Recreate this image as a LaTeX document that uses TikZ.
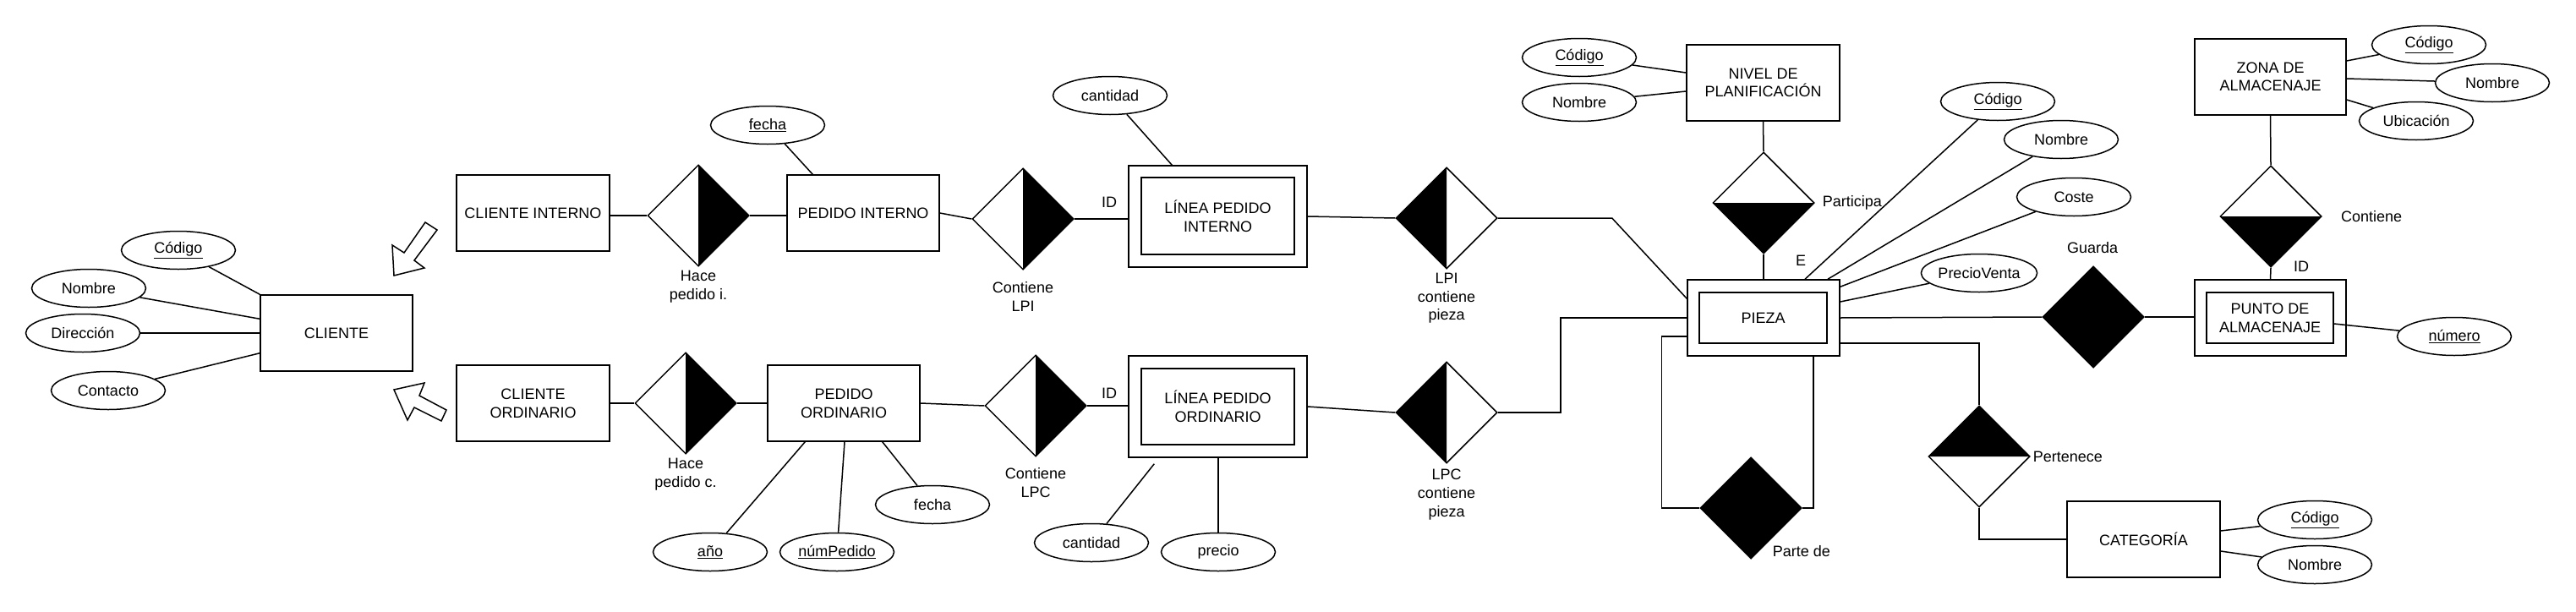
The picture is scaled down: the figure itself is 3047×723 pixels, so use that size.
\documentclass[tikz,border=0pt]{standalone}
\usepackage{fontspec}
\setmainfont{Liberation Sans}
\usetikzlibrary{shapes.geometric,calc}
\begin{document}
\begin{tikzpicture}[x=1pt,y=-1pt,line width=1.5pt,
  every node/.style={font=\fontsize{18}{21.6}\selectfont, inner sep=0pt},
  ent/.style={draw, rectangle, minimum width=181pt, minimum height=90pt, align=center},
  wouter/.style={draw, rectangle},
  attr/.style={draw, ellipse, minimum width=135pt, minimum height=45pt},
  rel/.style={draw, diamond, minimum width=120pt, minimum height=120pt},
  halfR/.style={path picture={\fill[black] (path picture bounding box.north) -- (path picture bounding box.east) -- (path picture bounding box.south) -- cycle;}},
  halfL/.style={path picture={\fill[black] (path picture bounding box.north) -- (path picture bounding box.west) -- (path picture bounding box.south) -- cycle;}},
  halfB/.style={path picture={\fill[black] (path picture bounding box.west) -- (path picture bounding box.east) -- (path picture bounding box.south) -- cycle;}},
  halfT/.style={path picture={\fill[black] (path picture bounding box.west) -- (path picture bounding box.east) -- (path picture bounding box.north) -- cycle;}},
  fullrel/.style={fill=black},
  lbl/.style={align=center},
  blockarrow/.style={draw, fill=white}
]
\fill[white] (0,0) rectangle (3047,723);
\useasboundingbox (0,0) rectangle (3047,723);

% ---------- CLIENTE ----------
\node[ent, minimum width=180pt] (cliente) at (398,394) {CLIENTE};
\node[attr] (aCod) at (211,296) {\underline{Código}};
\node[attr] (aNom) at (105,341) {Nombre};
\node[attr] (aDir) at (98,394) {Dirección};
\node[attr] (aCon) at (128,462) {Contacto};
\draw (aCod) -- (cliente.north west);
\draw (aNom) -- ($(cliente.north west)+(0,29)$);
\draw (aDir) -- (cliente.west);
\draw (aCon) -- ($(cliente.south west)+(0,-22)$);

% hollow block arrows (generalisation)
\draw[blockarrow] (466,326) -- (464,290) -- (478,299) -- (503,263) -- (517,272) -- (490,308) -- (502,317) -- cycle;
\draw[blockarrow] (466,461) -- (502,453) -- (496,468) -- (528,485) -- (522,498) -- (490,482) -- (482,497) -- cycle;

% ---------- top row ----------
\node[ent] (cint) at (630.5,252) {CLIENTE INTERNO};
\node[rel, halfR] (hpi) at (826,255) {};
\node[lbl] (hpiL) at (826,339) {Hace\\pedido i.};
\node[ent, minimum width=180pt] (pint) at (1021,252) {PEDIDO INTERNO};
\node[attr] (aFechaI) at (908,148) {\underline{fecha}};
\node[rel, halfR] (clpi) at (1210,259) {};
\node[lbl] (clpiL) at (1210,351) {Contiene\\LPI};
\node (id1) at (1312,239) {ID};
\node[wouter, minimum width=211pt, minimum height=120pt] (lpiO) at (1440.5,256) {};
\node[ent, minimum width=181pt, minimum height=91pt] (lpi) at (1440.5,255.5) {LÍNEA PEDIDO\\INTERNO};
\node[attr] (aCantI) at (1313,113) {cantidad};
\node[rel, halfL] (lpip) at (1711,258) {};
\node[lbl] (lpipL) at (1711,353) {LPI\\contiene\\pieza};

\draw (hpi.west) -- (hpi.west -| cint.east);
\draw (hpi.east) -- (hpi.east -| pint.west);
\draw (aFechaI) -- ($(pint.north west)+(31,0)$);
\draw (pint.east) -- (clpi.west);
\draw (clpi.east) -- (clpi.east -| lpiO.west);
\draw (aCantI) -- ($(lpiO.north west)+(52,0)$);
\draw (lpiO.east) -- (lpip.west);

% ---------- bottom row ----------
\node[ent] (cord) at (630.5,477) {CLIENTE\\ORDINARIO};
\node[rel, halfR] (hpc) at (811,477) {};
\node[lbl] (hpcL) at (811,561) {Hace\\pedido c.};
\node[ent, minimum width=180pt] (pord) at (998,477) {PEDIDO\\ORDINARIO};
\node[attr] (aAno) at (840,653) {\underline{año}};
\node[attr] (aNum) at (990,653) {\underline{númPedido}};
\node[attr] (aFechaO) at (1103,597) {fecha};
\node[rel, halfR] (clpc) at (1225,480) {};
\node[lbl] (clpcL) at (1225,571) {Contiene\\LPC};
\node (id2) at (1312,465) {ID};
\node[wouter, minimum width=211pt, minimum height=120pt] (lpoO) at (1440.5,481) {};
\node[ent, minimum width=181pt, minimum height=90pt] (lpo) at (1440.5,481) {LÍNEA PEDIDO\\ORDINARIO};
\node[attr] (aCantO) at (1291,642) {cantidad};
\node[attr] (aPrecio) at (1441,653) {precio};
\node[rel, halfL] (lpcp) at (1711,488) {};
\node[lbl] (lpcpL) at (1711,585) {LPC\\contiene\\pieza};

\draw (cord.east) -- (hpc.west);
\draw (hpc.east) -- (pord.west);
\draw (aAno) -- ($(pord.south west)+(45,0)$);
\draw (aNum) -- ($(pord.south)+(1,0)$);
\draw (aFechaO) -- ($(pord.south east)+(-45,0)$);
\draw (pord.east) -- (clpc.west);
\draw (clpc.east) -- (clpc.east -| lpoO.west);
\draw (aCantO) -- ($(lpoO.south west)+(31,7)$);
\draw (aPrecio) -- (aPrecio |- lpoO.south);
\draw (lpoO.east) -- (lpcp.west);

% ---------- PIEZA ----------
\node[wouter, minimum width=180pt, minimum height=90pt] (piezaO) at (2086,376) {};
\node[ent, minimum width=151pt, minimum height=60pt] (pieza) at (2085.5,376) {PIEZA};
\node[attr] (pCod) at (2363,120) {\underline{Código}};
\node[attr] (pNom) at (2438,165) {Nombre};
\node[attr] (pCoste) at (2453,233) {Coste};
\node[attr] (pPV) at (2341,323) {PrecioVenta};
\node (eL) at (2130,308) {E};

\draw (lpip.east) -- ++(135,0) -- ($(piezaO.north west)+(0,23)$);
\draw (lpcp.east) -- ++(74,0) |- (piezaO.west);
\draw (pCod) -- ($(piezaO.north)+(49,0)$);
\draw (pNom) -- ($(piezaO.north)+(76,0)$);
\draw (pCoste) -- ($(piezaO.north east)+(0,9)$);
\draw (pPV) -- ($(piezaO.east)+(0,-19)$);

% NIVEL DE PLANIFICACION
\node[ent] (nivel) at (2085.5,98) {NIVEL DE\\PLANIFICACIÓN};
\node[attr] (nCod) at (1868,68) {\underline{Código}};
\node[attr] (nNom) at (1868,121) {Nombre};
\node[rel, halfB] (part) at (2086,240) {};
\node[anchor=west] (partL) at (2155,240) {Participa};
\draw (nCod) -- ($(nivel.west)+(0,-12)$);
\draw (nNom) -- ($(nivel.west)+(0,10)$);
\draw (nivel.south) -- (part.north);
\draw (part.south) -- (piezaO.north);

% Parte de
\node[rel, fullrel] (parte) at (2071,601) {};
\node[anchor=west] (parteL) at (2096,652) {Parte de};
\draw ($(piezaO.west)+(0,22)$) -| ($(parte.west)+(-45,0)$) -- (parte.west);
\draw (parte.east) -| ($(piezaO.south)+(59,0)$);

% Pertenece / CATEGORIA
\node[rel, halfT] (pert) at (2341,540) {};
\node[anchor=west] (pertL) at (2404,540) {Pertenece};
\node[ent] (categ) at (2535.5,638) {CATEGORÍA};
\node[attr] (kCod) at (2738,615) {\underline{Código}};
\node[attr] (kNom) at (2738,668) {Nombre};
\draw ($(piezaO.east)+(0,30)$) -| (pert.north);
\draw (pert.south) |- (categ.west);
\draw (kCod) -- ($(categ.east)+(0,-10)$);
\draw (kNom) -- ($(categ.east)+(0,14)$);

% Guarda / PUNTO DE ALMACENAJE
\node[rel, fullrel] (guarda) at (2476,375) {};
\node (guardaL) at (2475,293) {Guarda};
\node[wouter, minimum width=179pt, minimum height=90pt] (puntoO) at (2685.5,376) {};
\node[ent, minimum width=150pt, minimum height=60pt] (punto) at (2685,376) {PUNTO DE\\ALMACENAJE};
\node[attr] (num) at (2903,398) {\underline{número}};
\draw (piezaO.east) -- (guarda.west);
\draw (guarda.east) -- (guarda.east -| puntoO.west);
\draw (num) -- ($(punto.east)+(0,7)$);

% ZONA DE ALMACENAJE
\node[ent, minimum width=179pt] (zona) at (2685.5,91) {ZONA DE\\ALMACENAJE};
\node[attr] (zCod) at (2873,53) {\underline{Código}};
\node[attr] (zNom) at (2948,98) {Nombre};
\node[attr] (zUbi) at (2858,143) {Ubicación};
\node[rel, halfB] (cont) at (2686,256) {};
\node (contL) at (2805,256) {Contiene};
\node (id3) at (2722,315) {ID};
\draw (zona.south) -- (cont.north);
\draw (cont.south) -- (puntoO.north);
\draw (zCod) -- ($(zona.east)+(0,-19)$);
\draw (zNom) -- ($(zona.east)+(0,2)$);
\draw (zUbi) -- ($(zona.east)+(0,27)$);
\end{tikzpicture}
\end{document}
